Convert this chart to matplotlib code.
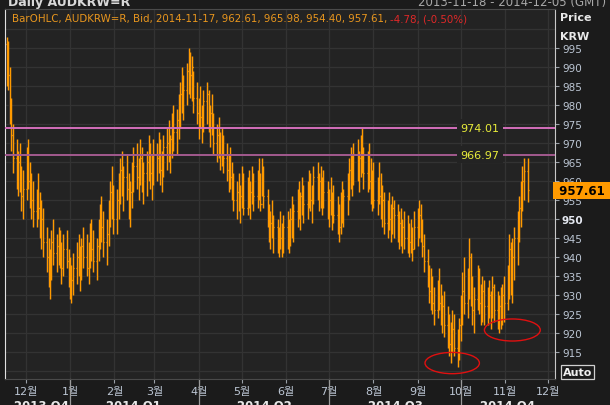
import matplotlib
matplotlib.use("Agg")
import matplotlib.pyplot as plt
import matplotlib.dates as mdates
from matplotlib.patches import Ellipse
import pandas as pd

plt.rcParams['font.family'] = ['DejaVu Sans', 'Noto Sans CJK KR']

# daily bid bars, 2013-11-18 .. 2014-11-17 (one row = one week)
closes = [
    992, 988, 978, 972, 966,
    962, 965, 959, 956, 958,
    966, 960, 957, 955, 952,
    956, 953, 948, 950, 944,
    940, 935, 938, 944, 941,
    943, 945, 940, 937, 942,
    939, 935, 932, 934, 937,
    940, 938, 936, 943, 940,
    937, 941, 945, 942, 939,
    943, 947, 950, 948, 944,
    946, 952, 957, 954, 950,
    955, 959, 963, 960, 961,
    958, 954, 957, 962, 964,
    961, 963, 966, 960, 962,
    965, 968, 962, 964, 967,
    966, 969, 963, 965, 969,
    970, 968, 971, 975, 973,
    976, 980, 983, 986, 984,
    989, 991, 988, 990, 982,
    978, 979, 977, 975, 981,
    983, 976, 978, 974, 970,
    972, 969, 967, 970, 966,
    963, 965, 961, 958, 955,
    957, 954, 956, 960, 953,
    958, 955, 957, 961, 956,
    960, 958, 954, 963, 956,
    951, 947, 949, 946, 948,
    944, 946, 945, 943, 948,
    947, 945, 950, 948, 952,
    955, 953, 956, 958, 954,
    957, 960, 955, 958, 961,
    958, 960, 956, 959, 957,
    953, 955, 952, 954, 951,
    950, 948, 953, 951, 956,
    959, 963, 961, 965, 967,
    964, 966, 969, 965, 962,
    965, 960, 957, 959, 955,
    958, 956, 953, 955, 949,
    952, 950, 948, 953, 951,
    947, 949, 946, 948, 945,
    947, 944, 946, 942, 948,
    950, 951, 949, 943, 939,
    935, 931, 933, 928, 926,
    930, 928, 925, 927, 922,
    920, 917, 919, 921, 916,
    915, 922, 927, 931, 928,
    933, 940, 930, 926, 929,
    934, 928, 925, 931, 927,
    925, 930, 927, 932, 926,
    924, 927, 925, 930, 928,
    935, 942, 933, 940, 945,
    949, 953, 957, 960, 962.61,
    957.61,
]
highs = [
    998, 997, 990, 982, 975,
    971, 968, 970, 964, 963,
    969, 971, 965, 962, 960,
    958, 962, 957, 955, 953,
    948, 945, 942, 947, 950,
    946, 948, 947, 944, 946,
    947, 942, 940, 938, 941,
    944, 946, 943, 945, 948,
    946, 944, 949, 950, 947,
    945, 950, 954, 956, 952,
    950, 955, 960, 964, 959,
    958, 962, 966, 968, 964,
    967, 962, 960, 965, 969,
    970, 966, 971, 969, 965,
    968, 972, 970, 967, 971,
    970, 973, 971, 968, 972,
    974, 976, 972, 978, 980,
    979, 983, 986, 990, 988,
    991, 995, 994, 993, 989,
    986, 982, 985, 980, 984,
    986, 984, 980, 983, 978,
    975, 977, 973, 974, 972,
    970, 967, 969, 965, 962,
    960, 962, 959, 964, 962,
    961, 963, 960, 964, 962,
    963, 966, 962, 966, 964,
    958, 954, 952, 955, 951,
    950, 948, 952, 949, 951,
    952, 950, 953, 956, 954,
    958, 960, 957, 961, 959,
    960, 963, 962, 959, 964,
    965, 962, 964, 961, 963,
    960, 958, 961, 957, 959,
    956, 954, 957, 960, 958,
    962, 966, 969, 967, 970,
    971, 968, 972, 974, 969,
    968, 970, 966, 963, 965,
    961, 965, 962, 959, 957,
    955, 957, 954, 956, 955,
    954, 952, 953, 950, 952,
    951, 949, 950, 948, 952,
    953, 955, 954, 950, 946,
    942, 938, 937, 935, 932,
    934, 937, 933, 930, 931,
    927, 925, 923, 926, 925,
    921, 924, 930, 936, 940,
    937, 945, 941, 935, 932,
    938, 937, 933, 935, 934,
    932, 934, 931, 935, 933,
    931, 930, 932, 933, 935,
    938, 946, 944, 945, 948,
    952, 956, 960, 964, 966,
    965.98,
]
lows = [
    985, 984, 975, 968, 962,
    958, 956, 957, 952, 950,
    955, 958, 953, 950, 948,
    948, 950, 945, 942, 940,
    936, 932, 929, 934, 938,
    936, 938, 937, 933, 935,
    937, 932, 929, 928, 930,
    933, 935, 931, 934, 937,
    935, 933, 937, 939, 936,
    934, 939, 942, 944, 940,
    938, 943, 948, 950, 946,
    946, 950, 954, 956, 952,
    955, 950, 948, 953, 957,
    958, 955, 959, 957, 954,
    956, 960, 958, 955, 959,
    960, 962, 959, 957, 961,
    963, 965, 962, 966, 968,
    967, 971, 974, 978, 976,
    980, 983, 982, 981, 978,
    975, 971, 974, 970, 973,
    975, 973, 969, 972, 967,
    965, 966, 963, 964, 962,
    960, 957, 958, 955, 952,
    950, 952, 949, 953, 951,
    951, 953, 950, 954, 952,
    953, 955, 952, 956, 953,
    948, 944, 942, 945, 941,
    941, 940, 942, 940, 941,
    942, 941, 943, 945, 944,
    948, 950, 947, 951, 949,
    950, 953, 952, 949, 954,
    955, 952, 953, 951, 953,
    950, 948, 951, 947, 949,
    946, 944, 946, 949, 948,
    951, 955, 958, 956, 959,
    960, 957, 961, 962, 958,
    957, 958, 954, 952, 953,
    951, 954, 950, 948, 946,
    945, 947, 944, 946, 945,
    944, 942, 943, 941, 942,
    941, 940, 941, 939, 942,
    943, 945, 944, 940, 936,
    932, 928, 926, 925, 922,
    924, 926, 922, 920, 919,
    916, 914, 912, 915, 914,
    911, 913, 918, 922, 925,
    924, 929, 927, 922, 920,
    926, 925, 922, 923, 922,
    922, 924, 921, 924, 923,
    921, 920, 921, 922, 923,
    926, 929, 930, 928, 934,
    938, 944, 948, 952, 955,
    954.40,
]
first_open = 996

levels = [974.01, 966.97]
level_colors = ['#d36fbb', '#a35a8e']

month_starts = pd.date_range("2013-12-01", "2014-12-01", freq="MS")
month_labels = ['12월', '1월', '2월', '3월', '4월', '5월', '6월',
                '7월', '8월', '9월', '10월', '11월', '12월']
quarter_starts = ["2014-01-01", "2014-04-01", "2014-07-01", "2014-10-01"]
quarter_labels = ['2013 Q4', '2014 Q1', '2014 Q2', '2014 Q3', '2014 Q4']
quarter_label_pos = [41, 133, 264, 395, 508]   # pixel centres

# hand-drawn red rings: (centre date, centre price, width days, height)
rings = [("2014-09-25", 912.1, 38, 5.6), ("2014-11-06", 920.8, 39, 5.8)]

dates = pd.bdate_range("2013-11-18", periods=len(closes))
x = mdates.date2num(dates)
opens = [first_open] + closes[:-1]

W, H = 610, 406
BG = '#1b1b1b'
PANEL = '#232323'
ORANGE = '#ff9a00'
TICKC = '#bcc6d4'

fig = plt.figure(figsize=(W / 100, H / 100), dpi=100, facecolor=BG)
ax = fig.add_axes([5 / W, 26 / H, 550 / W, 370 / H], facecolor=PANEL)

x0 = mdates.date2num(pd.Timestamp("2013-11-18"))
ax.set_xlim(x0 - 1.4, x0 + 382.8)
ax.set_ylim(907.9, 1005.3)

# grid
for yv in range(910, 1005, 5):
    ax.axhline(yv, color='#333333', lw=0.9, zorder=0)
for m in month_starts:
    ax.axvline(mdates.date2num(m), color='#333333', lw=0.9, zorder=0)

# OHLC bars with a thin dark shadow
ax.vlines(x - 0.7, lows, highs, color='#17203a', lw=0.9, zorder=1)
ax.vlines(x, lows, highs, color=ORANGE, lw=1.05, zorder=2)
ax.hlines(opens, x - 0.7, x, color=ORANGE, lw=0.9, zorder=2)
ax.hlines(closes, x, x + 0.7, color=ORANGE, lw=0.9, zorder=2)

# level lines
for lv, c in zip(levels, level_colors):
    ax.axhline(lv, color=c, lw=1.4, zorder=3)
    ax.text(0.864, lv, f"{lv:.2f}", transform=ax.get_yaxis_transform(),
            ha='center', va='center', color='#e8ec3a', fontsize=8,
            bbox=dict(fc=PANEL, ec='none', pad=2.5), zorder=4)

for d, yc, wd, ht in rings:
    ax.add_patch(Ellipse((mdates.date2num(pd.Timestamp(d)), yc), wd, ht,
                         fill=False, ec='#e01010', lw=1.0, zorder=5))

# right price axis
ax.yaxis.tick_right()
ax.set_yticks(range(915, 1000, 5))
ax.tick_params(axis='y', colors='#9aa0a8', labelcolor=TICKC, length=3,
               width=0.8, labelsize=7.5, pad=2)
for lab in ax.get_yticklabels():
    if lab.get_text() == '950':
        lab.set_fontweight('bold')
        lab.set_color('#e4e8f0')

# month axis
ax.set_xticks(mdates.date2num(month_starts))
ax.set_xticklabels(month_labels)
ax.tick_params(axis='x', colors='#9aa0a8', labelcolor=TICKC, length=3,
               width=0.8, labelsize=8, pad=2)

for side in ['top', 'bottom']:
    ax.spines[side].set_color('#4a4a4a')
ax.spines['left'].set_color('#e0e0e0')
ax.spines['right'].set_color('#c8c8c8')

# quarter separators and labels
for q in quarter_starts:
    ax.plot([mdates.date2num(pd.Timestamp(q))] * 2, [0, -0.08],
            transform=ax.get_xaxis_transform(), color='#9a9a9a', lw=0.9,
            clip_on=False)
for lab, px in zip(quarter_labels, quarter_label_pos):
    fig.text(px / W, 1 - 400 / H, lab, ha='center', va='top', color='#e8e8e8',
             fontsize=8.5, fontweight='bold')

# last price box
ax.text(1.0, 957.61, " 957.61 ", transform=ax.get_yaxis_transform(),
        ha='left', va='center', color='black', fontsize=8.5, fontweight='bold',
        bbox=dict(fc=ORANGE, ec='none', pad=1.5), clip_on=False, zorder=6)

# header / legend text
fig.text(8 / W, 1 - 6 / H, "Daily AUDKRW=R", color='#d8d8d8', fontsize=9,
         fontweight='bold', va='baseline')
fig.text(606 / W, 1 - 6 / H, "2013-11-18 - 2014-12-05 (GMT)", color='#a8a8a8',
         fontsize=8.5, ha='right', va='baseline')
t1 = fig.text(12 / W, 1 - 19 / H,
              "BarOHLC, AUDKRW=R, Bid, 2014-11-17, 962.61, 965.98, 954.40, 957.61, ",
              color='#e8961e', fontsize=7.4, va='center')
ax.annotate("-4.78, (-0.50%)", xy=(1, 0), xycoords=t1, va='bottom',
            color='#e02828', fontsize=7.4, annotation_clip=False)

fig.text(560 / W, 1 - 18 / H, "Price", color='#e8e8e8', fontsize=8,
         fontweight='bold', va='center')
fig.text(560 / W, 1 - 37 / H, "KRW", color='#e8e8e8', fontsize=8,
         fontweight='bold', va='center')
fig.text(563 / W, 1 - 373 / H, "Auto", color='#f0f0f0', fontsize=8,
         fontweight='bold', va='center',
         bbox=dict(fc=BG, ec='#d0d0d0', lw=0.9, pad=1.2))

fig.savefig("out.png", dpi=100, facecolor=BG)
